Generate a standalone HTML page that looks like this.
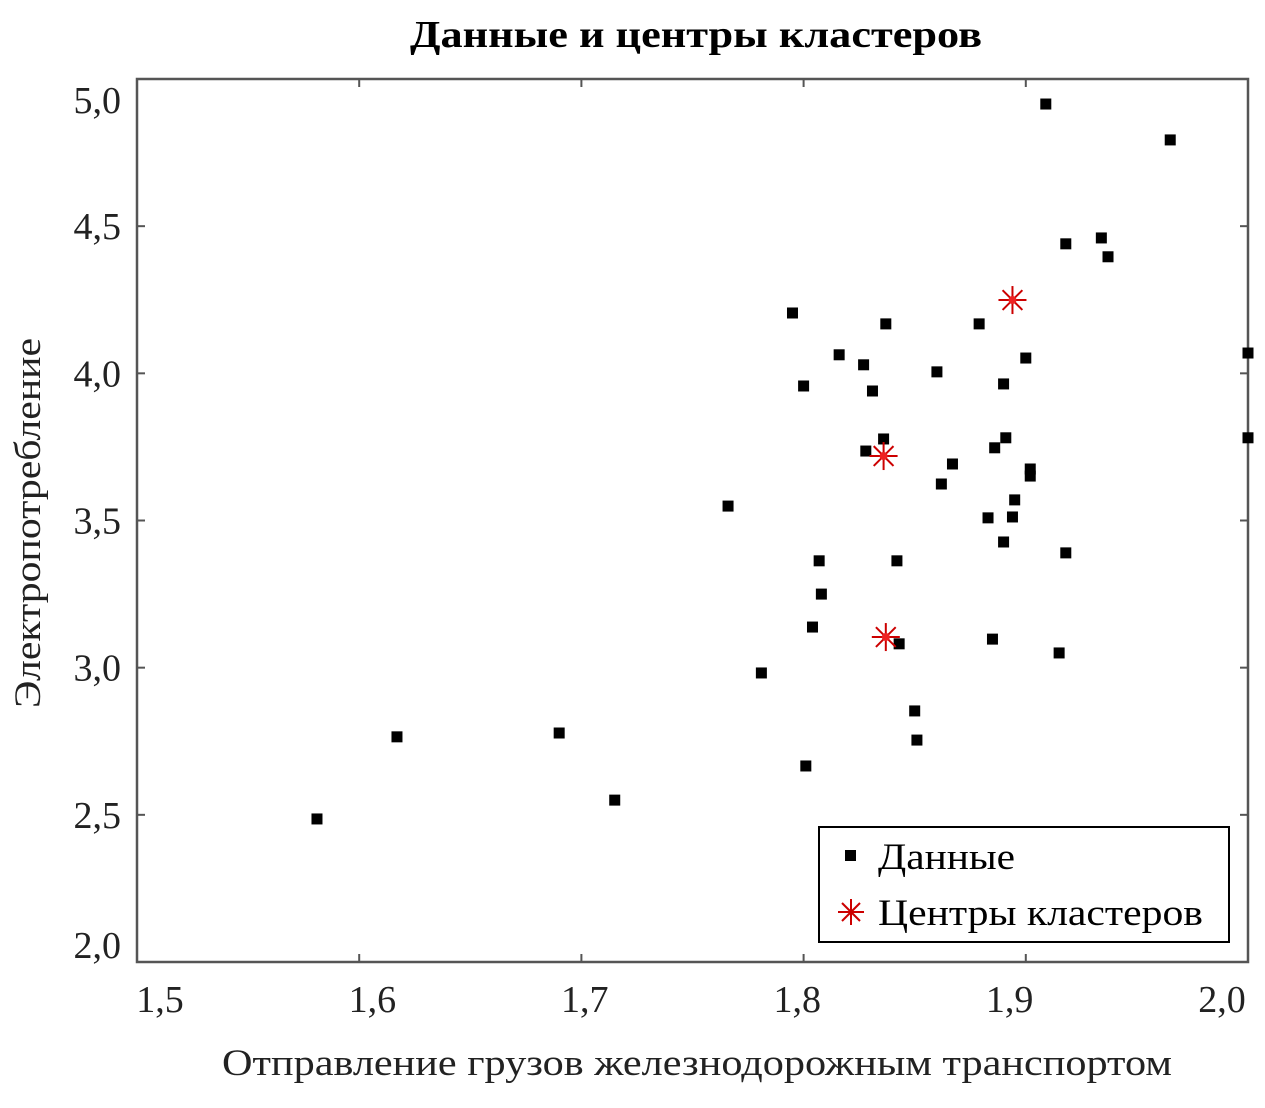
<!DOCTYPE html>
<html><head><meta charset="utf-8"><style>
body{margin:0;background:#fff;}
svg text{font-family:"Liberation Serif",serif;}
</style></head><body>
<svg width="1265" height="1103" xmlns="http://www.w3.org/2000/svg" id="chart">
<text x="410" y="47" textLength="572" lengthAdjust="spacingAndGlyphs" font-size="38" font-weight="bold">Данные и центры кластеров</text>
<rect x="137" y="79" width="1111" height="883" fill="none" stroke="#555" stroke-width="2.5"/>
<g id="marks"></g>
<text x="222" y="1075" textLength="950" lengthAdjust="spacingAndGlyphs" font-size="37" fill="#222">Отправление грузов железнодорожным транспортом</text>
<text transform="translate(40,708) rotate(-90)" textLength="370" lengthAdjust="spacingAndGlyphs" font-size="37" fill="#222">Электропотребление</text>
<g>
<rect x="819" y="827" width="410" height="115" fill="#fff" stroke="#000" stroke-width="2"/>
<rect x="845" y="850" width="11" height="11" fill="#000"/>
<text x="878" y="869" textLength="137" lengthAdjust="spacingAndGlyphs" font-size="37">Данные</text>
<g stroke="#c00" stroke-width="2">
<line x1="838" y1="912" x2="864" y2="912"/><line x1="851" y1="899" x2="851" y2="925"/><line x1="842" y1="903" x2="860" y2="921"/><line x1="842" y1="921" x2="860" y2="903"/></g>
<text x="878" y="925" textLength="325" lengthAdjust="spacingAndGlyphs" font-size="37">Центры кластеров</text>
</g>
</svg>
<script>
const dataX=[1.581,1.617,1.690,1.715,1.766,1.781,1.795,1.800,1.801,1.804,1.807,1.808,1.816,1.827,1.828,1.831,1.836,1.837,1.842,1.843,1.850,1.851,1.860,1.862,1.867,1.879,1.883,1.885,1.886,1.890,1.890,1.891,1.894,1.895,1.900,1.902,1.902,1.909,1.915,1.918,1.918,1.934,1.937,1.965,2.000,2.000];
const dataY=[2.486,2.765,2.778,2.550,3.549,2.982,4.205,3.957,2.666,3.138,3.363,3.250,4.063,4.029,3.736,3.940,3.777,4.168,3.363,3.081,2.853,2.754,4.005,3.624,3.692,4.168,3.509,3.097,3.747,3.964,3.427,3.781,3.512,3.570,4.052,3.675,3.651,4.915,3.050,4.440,3.390,4.460,4.396,4.793,4.069,3.781];
const centerX=[1.894,1.836,1.837];
const centerY=[4.249,3.719,3.104];
const xTicks=[1.5,1.6,1.7,1.8,1.9,2.0];
const xTickLabels=["1,5","1,6","1,7","1,8","1,9","2,0"];
const yTicks=[2.0,2.5,3.0,3.5,4.0,4.5,5.0];
const yTickLabels=["2,0","2,5","3,0","3,5","4,0","4,5","5,0"];
const NS="http://www.w3.org/2000/svg";
const X0=137,X1=1248,Y0=962,Y1=79;
const sx=v=>X0+(v-1.5)/0.5*(X1-X0);
const sy=v=>Y0-(v-2.0)/3.0*(Y0-Y1);
const g=document.getElementById('marks');
function mk(t,a){const e=document.createElementNS(NS,t);for(const k in a)e.setAttribute(k,a[k]);g.appendChild(e);return e;}
xTicks.forEach((v,i)=>{
  let l=mk('line',{x1:sx(v),x2:sx(v),y1:Y0,y2:Y0-8,stroke:'#555','stroke-width':2});
  
  
  let l2=mk('line',{x1:sx(v),x2:sx(v),y1:Y1,y2:Y1+8,stroke:'#555','stroke-width':2});
  
  
  let t=mk('text',{x:160+i*212.4,y:1012,'text-anchor':'middle','font-size':38,fill:'#222'});
  t.textContent=xTickLabels[i];
  
  
});
yTicks.forEach((v,i)=>{
  let l=mk('line',{x1:X0,x2:X0+8,y1:sy(v),y2:sy(v),stroke:'#555','stroke-width':2});
  
  
  let l2=mk('line',{x1:X1,x2:X1-8,y1:sy(v),y2:sy(v),stroke:'#555','stroke-width':2});
  
  
  let y=sy(v)+13; if(v===5.0)y=113; if(v===2.0)y=958;
  let t=mk('text',{x:121,y:y,'text-anchor':'end','font-size':38,fill:'#222'});
  t.textContent=yTickLabels[i];
  
  
});
dataX.forEach((v,i)=>{
  let r=mk('rect',{x:sx(v)-5.5,y:sy(dataY[i])-5.5,width:11,height:11,fill:'#000'});
  
  
});
centerX.forEach((v,i)=>{
  const cx=sx(v),cy=sy(centerY[i]);
  let c=mk('g',{stroke:'#c00','stroke-width':2});
  
  
  [[0,1],[1,0],[0.707,0.707],[0.707,-0.707]].forEach(d=>{
    const e=document.createElementNS(NS,'line');
    e.setAttribute('x1',cx-d[0]*14);e.setAttribute('y1',cy-d[1]*14);
    e.setAttribute('x2',cx+d[0]*14);e.setAttribute('y2',cy+d[1]*14);
    c.appendChild(e);
  });
  let d=mk('circle',{cx:cx,cy:cy,r:4,fill:'#e22'});
  
  
});
</script>
</body></html>
